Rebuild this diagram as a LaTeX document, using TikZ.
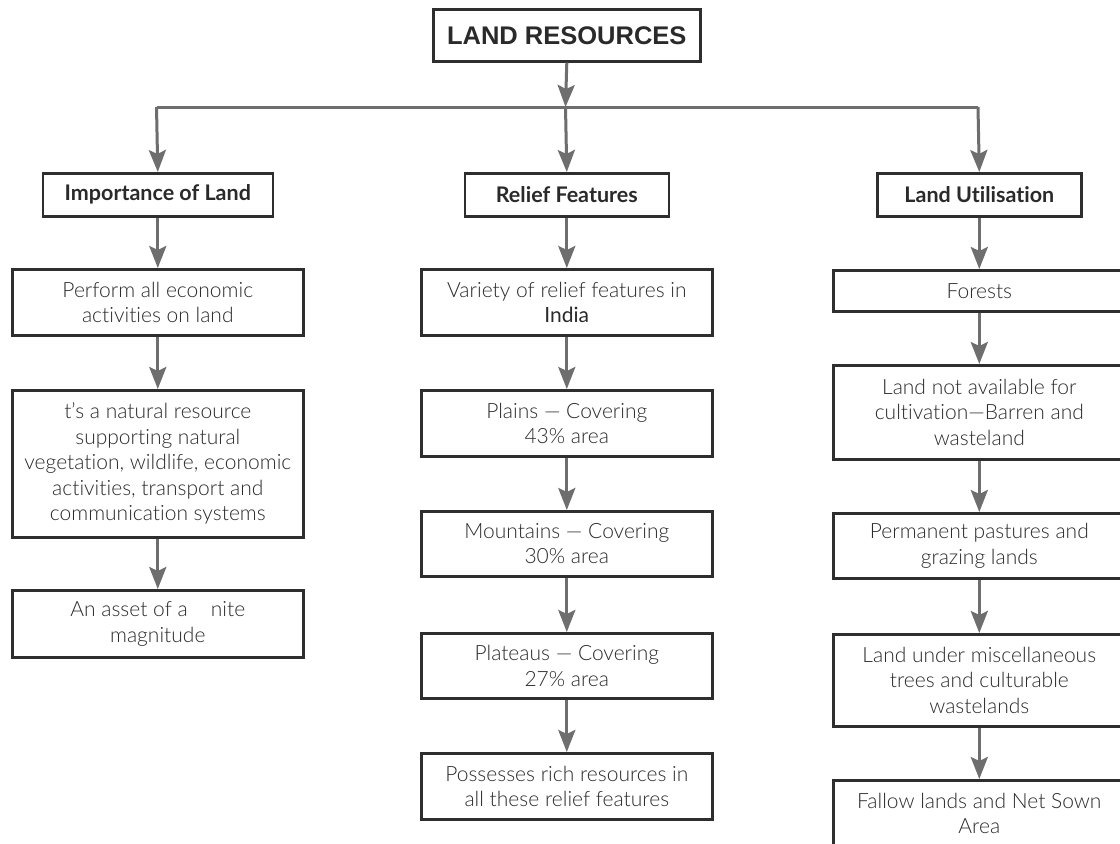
\documentclass[tikz,border=0pt]{standalone}
\usepackage{fontspec}
\setmainfont{Lato}[UprightFont={* Light},BoldFont={* Bold},Ligatures=NoCommon]
\newfontfamily\regfont{Lato}[Ligatures=NoCommon]
\newfontfamily\titlefont{Liberation Sans}
\usetikzlibrary{arrows.meta}
\definecolor{boxline}{HTML}{2E2E2E}
\definecolor{arrowgray}{HTML}{6E6E6E}
\definecolor{textgray}{HTML}{2A2A2A}
\begin{document}
\begin{tikzpicture}[x=1pt,y=-1pt,
  box/.style={draw=boxline, line width=2.6pt, fill=white, inner sep=0pt, align=center,
    anchor=north west, text=textgray, font=\fontsize{21}{25.5}\selectfont},
  head/.style={box, font=\bfseries\fontsize{21.5}{25}\selectfont},
  arr/.style={draw=arrowgray, line width=3pt, -{Stealth[length=22pt,width=17pt,inset=4pt]}},
  ln/.style={draw=arrowgray, line width=3pt}]
\useasboundingbox (0,0) rectangle (1120,844);
\clip (0,0) rectangle (1120,844);
\fill[white] (0,0) rectangle (1120,844);

% title
\node[box, minimum width=267pt, minimum height=52pt, font=\titlefont\bfseries\fontsize{25.5}{30}\selectfont] (title) at (432,8) {LAND RESOURCES};

% headings
\node[head, minimum width=230pt, minimum height=43pt] (h1) at (41.5,172) {Importance of Land};
\node[head, minimum width=204pt, minimum height=43pt] (h2) at (463.5,172) {Relief Features};
\node[head, minimum width=204pt, minimum height=43pt] (h3) at (876,172) {Land Utilisation};

% left column
\node[box, minimum width=291pt, minimum height=66pt] (L1) at (11,268) {Perform all economic\\activities on land};
\node[box, minimum width=291pt, minimum height=147pt] (L2) at (11,389) {t's a natural resource\\supporting natural\\vegetation, wildlife, economic\\activities, transport and\\communication systems};
\node[box, minimum width=291pt, minimum height=67pt] (L3) at (11,589) {An asset of a\hspace{1.1em}nite\\magnitude};

% middle column
\node[box, minimum width=291pt, minimum height=66pt] (M1) at (420,268) {Variety of relief features in\\{\regfont India}};
\node[box, minimum width=291pt, minimum height=66pt] (M2) at (420,389) {Plains — Covering\\43\% area};
\node[box, minimum width=291pt, minimum height=65pt] (M3) at (420,510) {Mountains — Covering\\30\% area};
\node[box, minimum width=291pt, minimum height=65pt] (M4) at (420,632) {Plateaus — Covering\\27\% area};
\node[box, minimum width=291pt, minimum height=66pt] (M5) at (420,752) {Possesses rich resources in\\all these relief features};

% right column
\node[box, minimum width=292pt, minimum height=41pt] (R1) at (832,269) {Forests};
\node[box, minimum width=292pt, minimum height=94pt] (R2) at (832,364) {Land not available for\\cultivation—Barren and\\wasteland};
\node[box, minimum width=292pt, minimum height=65pt] (R3) at (832,512) {Permanent pastures and\\grazing lands};
\node[box, minimum width=292pt, minimum height=92pt] (R4) at (832,633) {Land under miscellaneous\\trees and culturable\\wastelands};
\node[box, minimum width=292pt, minimum height=66pt] (R5) at (832,779) {Fallow lands and Net Sown\\Area};

% connectors
\coordinate (hub) at (565.5,107);
\coordinate (hl) at (156.5,107);
\coordinate (hr) at (978,107);
\draw[ln] (hl) -- (hr);
\draw[arr] (title.south) -- (hub);
\draw[arr] (hl) -- (h1.north);
\draw[arr] (hub) -- (h2.north);
\draw[arr] (hr) -- (h3.north);

\draw[arr] (h1.south) -- (L1.north);
\draw[arr] (L1.south) -- (L2.north);
\draw[arr] (L2.south) -- (L3.north);

\draw[arr] (h2.south) -- (M1.north);
\draw[arr] (M1.south) -- (M2.north);
\draw[arr] (M2.south) -- (M3.north);
\draw[arr] (M3.south) -- (M4.north);
\draw[arr] (M4.south) -- (M5.north);

\draw[arr] (h3.south) -- (R1.north);
\draw[arr] (R1.south) -- (R2.north);
\draw[arr] (R2.south) -- (R3.north);
\draw[arr] (R3.south) -- (R4.north);
\draw[arr] (R4.south) -- (R5.north);
\end{tikzpicture}
\end{document}
